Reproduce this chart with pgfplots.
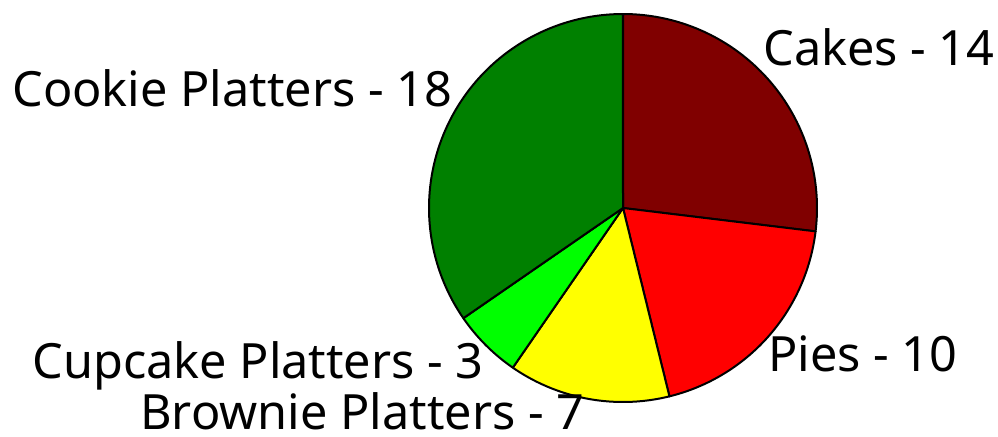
\documentclass[border=0pt]{standalone}
\usepackage{fontspec}
\setmainfont{Noto Sans}
\usepackage{pgfplots}
\pgfplotsset{compat=1.18}

\definecolor{cakes}{RGB}{128,0,0}
\definecolor{pies}{RGB}{255,0,0}
\definecolor{brownie}{RGB}{255,255,0}
\definecolor{cupcake}{RGB}{0,255,0}
\definecolor{cookie}{RGB}{0,128,0}

% slice values (clockwise from 12 o'clock)
\def\vCakes{14}
\def\vPies{10}
\def\vBrownie{7}
\def\vCupcake{3}
\def\vCookie{18}

\begin{document}
\begin{tikzpicture}
\pgfmathsetmacro{\total}{\vCakes+\vPies+\vBrownie+\vCupcake+\vCookie}
\pgfmathsetmacro{\aA}{90}
\pgfmathsetmacro{\aB}{\aA-\vCakes/\total*360}
\pgfmathsetmacro{\aC}{\aB-\vPies/\total*360}
\pgfmathsetmacro{\aD}{\aC-\vBrownie/\total*360}
\pgfmathsetmacro{\aE}{\aD-\vCupcake/\total*360}
\pgfmathsetmacro{\aF}{\aE-\vCookie/\total*360}
\def\cx{623}\def\cy{228}\def\r{194}
\begin{axis}[
    x=0.5pt, y=0.5pt,
    xmin=0, xmax=998, ymin=0, ymax=436,
    hide axis, clip=false,
    every axis plot/.append style={draw=black, line width=1pt, line join=round, samples=80, variable=\t},
]
\coordinate (ll) at (0,0);
\coordinate (ur) at (998,436);
\addplot[fill=cakes, domain=\aB:\aA] ({\cx+\r*cos(\t)}, {\cy+\r*sin(\t)}) -- (\cx,\cy) -- cycle;
\addplot[fill=pies, domain=\aC:\aB] ({\cx+\r*cos(\t)}, {\cy+\r*sin(\t)}) -- (\cx,\cy) -- cycle;
\addplot[fill=brownie, domain=\aD:\aC] ({\cx+\r*cos(\t)}, {\cy+\r*sin(\t)}) -- (\cx,\cy) -- cycle;
\addplot[fill=cupcake, domain=\aE:\aD] ({\cx+\r*cos(\t)}, {\cy+\r*sin(\t)}) -- (\cx,\cy) -- cycle;
\addplot[fill=cookie, domain=\aF:\aE] ({\cx+\r*cos(\t)}, {\cy+\r*sin(\t)}) -- (\cx,\cy) -- cycle;

\begin{scope}[every node/.style={anchor=base west, inner sep=0pt, font=\fontsize{24.3}{24.3}\selectfont}]
\node at (763,371) {Cakes - 14};
\node at (768,65) {Pies - 10};
\node at (140,7) {Brownie Platters - 7};
\node at (32,58) {Cupcake Platters - 3};
\node at (12,330) {Cookie Platters - 18};
\end{scope}
\end{axis}
\pgfresetboundingbox
\path[use as bounding box] (ll) rectangle (ur);
\end{tikzpicture}
\end{document}
